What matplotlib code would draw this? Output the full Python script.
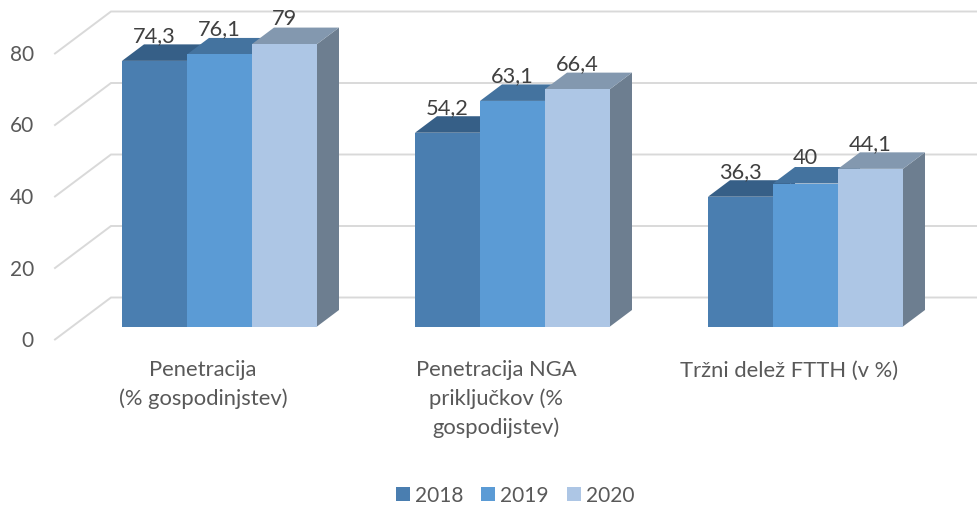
import numpy as np
from matplotlib import pyplot as plt
from matplotlib.patches import Patch, Polygon

plt.rcParams['font.family'] = ['Lato', 'DejaVu Sans']

categories = ["Penetracija\n(% gospodinjstev)", "Penetracija NGA\npriključkov (%\ngospodijstev)", "Tržni delež FTTH (v %)"]
years = ["2018", "2019", "2020"]
values_2018 = [74.3, 54.2, 36.3]
values_2019 = [76.1, 63.1, 40]
values_2020 = [79, 66.4, 44.1]
y_ticks = [0, 20, 40, 60, 80]

front_colors = ["#4A7EB0", "#5B9BD5", "#ADC6E5"]
top_colors = ["#365F87", "#44739F", "#8398AF"]
side_colors = ["#38608A", "#44729E", "#6D7E90"]
grid_color = "#D9D9D9"

# one x unit is one bar wide, one y unit is one percent on the front plane
px_x = 65.0
px_y = 3.575
group_gap = 293.0 / px_x
depth_x = 22.0 / px_x
depth_y = 16.5 / px_y
wall_left = (55.0 - 219.5) / px_x
wall_back = (111.0 - 219.5) / px_x
wall_front_y = -13.0 / px_y

fig = plt.figure(figsize=(9.77, 5.05), dpi=100)
ax = fig.add_axes([0, 0, 1, 1])
ax.set_xlim(-219.5 / px_x, (977 - 219.5) / px_x)
ax.set_ylim(-(505 - 326.5) / px_y, 326.5 / px_y)
ax.axis("off")

# walls
for tick in y_ticks:
	y0 = tick + wall_front_y
	y1 = y0 + 42.0 / px_y
	ax.plot([wall_left, wall_back, ax.get_xlim()[1]], [y0, y1, y1], color=grid_color, lw=1.4, zorder=1, solid_joinstyle="miter")
	ax.text(-219.5 / px_x + 34.0 / px_x, y0 - 1.5 / px_y, str(tick), ha="right", va="center", fontsize=15, color="#595959")

series = [values_2018, values_2019, values_2020]
group_pos = np.arange(len(categories)) * group_gap
z = 2
for gg, center in enumerate(group_pos):
	for ss, vals in enumerate(series):
		val = vals[gg]
		left = center + (ss - 1.5)
		right = left + 1
		ax.add_patch(Polygon([[right, 0], [right + depth_x, depth_y], [right + depth_x, val + depth_y], [right, val]], closed=True, fc=side_colors[ss], ec="none", zorder=z))
		ax.add_patch(Polygon([[left, val], [left + depth_x, val + depth_y], [right + depth_x, val + depth_y], [right, val]], closed=True, fc=top_colors[ss], ec="none", zorder=z))
		ax.bar(left + 0.5, val, width=1, color=front_colors[ss], zorder=z + 0.5)
		z += 1
		ax.text(left + 0.5, val + 19.0 / px_y, str(val).replace(".", ","), ha="center", va="baseline", fontsize=15.7, color="#404040", zorder=50)

# category labels sit left of the group, the first line is always at the same height
for center, label in zip(group_pos, categories):
	ax.text(center - 16.5 / px_x, -34.0 / px_y, label, ha="center", va="top", fontsize=15.8, color="#595959", linespacing=1.48)

handles = [Patch(fc=cc, ec="none", label=yy) for cc, yy in zip(front_colors, years)]
fig.legend(handles=handles, loc="center", bbox_to_anchor=(515 / 977, 1 - 495.5 / 505), ncol=3, frameon=False,
	fontsize=15, labelcolor="#595959", handlelength=0.68, handleheight=0.68, handletextpad=0.25, columnspacing=0.85, borderpad=0, borderaxespad=0)

fig.savefig("out.png", dpi=100)
